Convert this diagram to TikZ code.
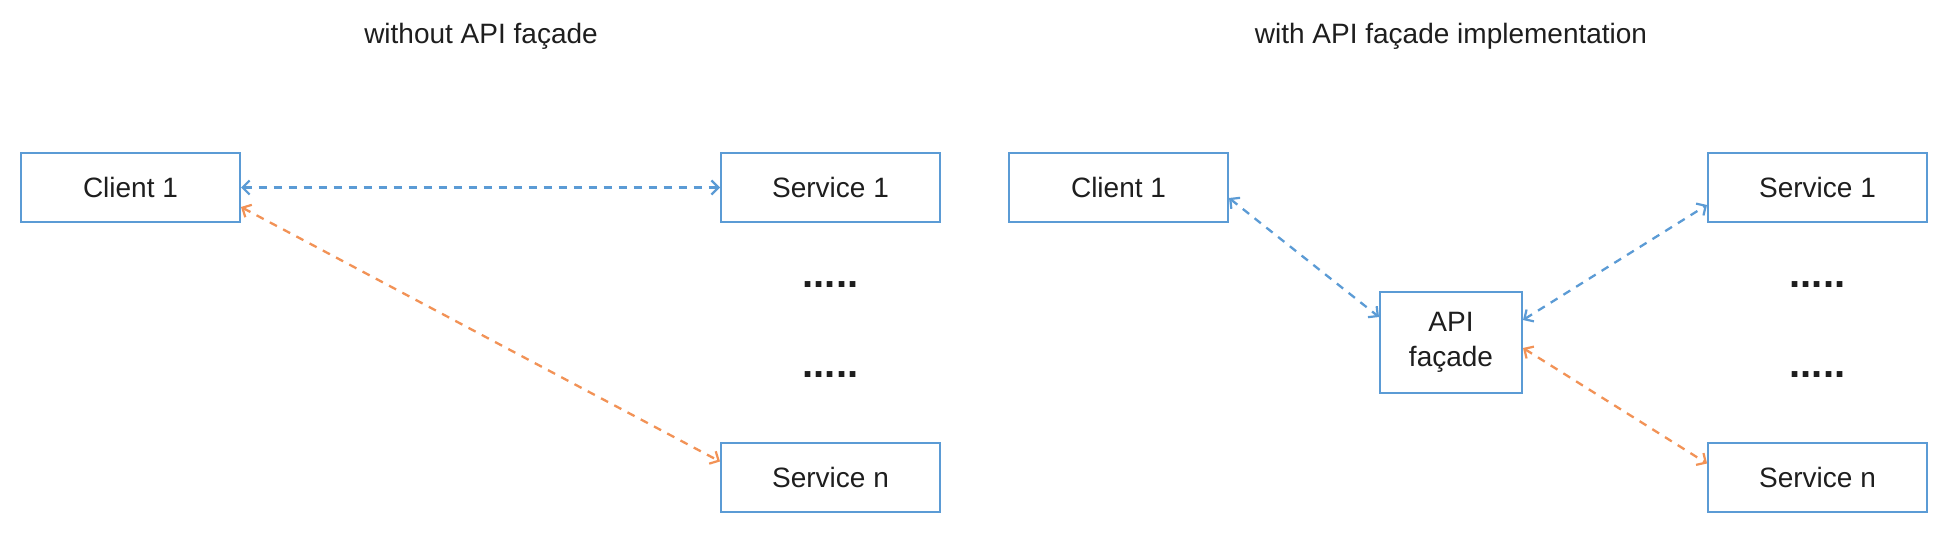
\documentclass[tikz,border=0pt]{standalone}
\usepackage{fontspec}
\setmainfont{Liberation Sans}
\usetikzlibrary{arrows.meta,calc}
\definecolor{boxblue}{RGB}{91,155,213}
\definecolor{lineorange}{RGB}{242,146,86}
\definecolor{txt}{RGB}{30,30,30}
\tikzset{
  x=1pt,y=1pt,
  boxbase/.style={draw=boxblue,line width=2pt,minimum width=219pt,minimum height=69pt,inner sep=0pt,
    font=\fontsize{28}{35}\selectfont,text=txt,align=center},
  box/.style={boxbase,text height=20pt,text depth=0pt},
  apibox/.style={boxbase,minimum width=142pt,minimum height=101pt},
  title/.style={font=\fontsize{28}{35}\selectfont,text=txt,anchor=base},
  dots/.style={font=\fontsize{40}{40}\selectfont\bfseries,text=txt,anchor=base,inner sep=0pt},
  link/.style={line width=2.3pt,dash pattern=on 8pt off 7pt,
    {Straight Barb[length=7pt,width=14pt,line width=2.2pt]}-{Straight Barb[length=7pt,width=14pt,line width=2.2pt]}},
  bluelink/.style={link,draw=boxblue},
  orangelink/.style={link,draw=lineorange},
}
\begin{document}
\begin{tikzpicture}
\useasboundingbox (0,0) rectangle (1950,-534);
\fill[white] (0,0) rectangle (1950,-534);
% titles
\node[title] (t1) at (481,-44) {without API façade};
\node[title] (t2) at (1451,-44) {with API façade implementation};
% left
\node[box] (c1) at (130.5,-187.5) {Client 1};
\node[box] (s1) at (830.5,-187.5) {Service 1};
\node[box] (sn) at (830.5,-477) {Service n};
\node[dots] (d1) at (830.5,-287.5) {.....};
\node[dots] (d2) at (830.5,-377.5) {.....};
\draw[bluelink] (c1.east) -- (s1.west);
\draw[orangelink] ($(c1.south east)+(0,16)$) -- ($(sn.north west)+(0,-20)$);
% right
\node[box] (c2) at (1118.5,-187.5) {Client 1};
\node[apibox] (api) at (1451,-342.5) {API\\façade};
\node[box] (s2) at (1817.5,-187.5) {Service 1};
\node[box] (s3) at (1817.5,-477) {Service n};
\node[dots] (d3) at (1817.5,-287.5) {.....};
\node[dots] (d4) at (1817.5,-377.5) {.....};
\draw[bluelink] ($(c2.east)+(0,-10.5)$) -- ($(api.west)+(0,25.5)$);
\draw[bluelink] ($(api.east)+(0,22.5)$) -- ($(s2.west)+(0,-17.5)$);
\draw[orangelink] ($(api.east)+(0,-5.5)$) -- ($(s3.north west)+(0,-22)$);
\end{tikzpicture}
\end{document}
